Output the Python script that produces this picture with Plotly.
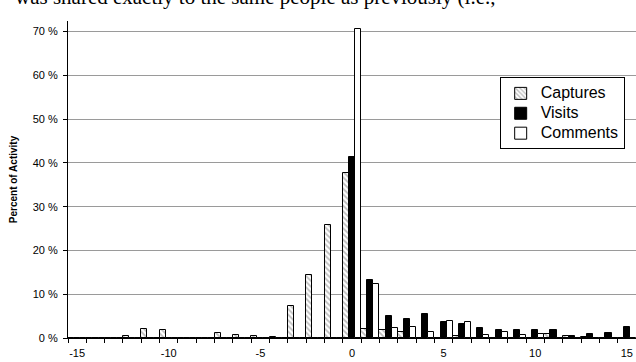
import plotly.graph_objects as go

categories = list(range(-15, 16))
captures = [0, 0, 0, 0.5, 2.0, 1.8, 0, 0, 1.2, 0.8, 0.5, 0.3, 7.2, 14.3, 25.9, 37.6,
            2.1, 1.9, 1.3, 0, 0, 0.5, 0, 0, 0, 0, 1.0, 0.4, 0.2, 0, 0]
visits = [0, 0, 0, 0, 0, 0, 0, 0, 0, 0, 0, 0, 0, 0, 0, 41.3,
          13.3, 5.1, 4.4, 5.5, 3.6, 3.3, 2.3, 1.8, 1.8, 1.8, 1.8, 0.4, 1.0, 1.1, 2.5]
comments = [0, 0, 0, 0, 0, 0, 0, 0, 0, 0, 0, 0, 0, 0, 0, 70.5,
            12.4, 2.2, 2.6, 1.3, 3.8, 3.7, 0.8, 1.3, 0.8, 0.9, 0, 0, 0, 0, 0]
series_names = ["Captures", "Visits", "Comments"]
x_tick_vals = [-15, -10, -5, 0, 5, 10, 15]
y_tick_vals = [0, 10, 20, 30, 40, 50, 60, 70]
y_tick_text = [f"{v} %" for v in y_tick_vals]

FONT = "Liberation Sans, Arial, sans-serif"


def legend_name(name):
    return f"<span style='font-size:16px'>{name}</span>"


fig = go.Figure()
fig.add_trace(go.Bar(
    x=categories, y=captures, name=legend_name(series_names[0]),
    marker=dict(color="white", line=dict(color="black", width=1),
                pattern=dict(shape="\\", fgcolor="#7a7a7a", bgcolor="white", size=4, solidity=0.45)),
))
fig.add_trace(go.Bar(
    x=categories, y=visits, name=legend_name(series_names[1]),
    marker=dict(color="black", line=dict(color="black", width=1)),
))
fig.add_trace(go.Bar(
    x=categories, y=comments, name=legend_name(series_names[2]),
    marker=dict(color="white", line=dict(color="black", width=1)),
))

fig.update_layout(
    width=636, height=362,
    margin=dict(l=68, r=0, t=21, b=24),
    paper_bgcolor="white", plot_bgcolor="white",
    barmode="group", bargap=0, bargroupgap=0,
    font=dict(family=FONT, size=11, color="black"),
    legend=dict(x=0.76, y=0.822, xanchor="left", yanchor="top",
                bordercolor="black", borderwidth=1, bgcolor="white",
                font=dict(family=FONT, size=13, color="black"),
                traceorder="normal"),
    xaxis=dict(
        range=[-15.5, 15.5], tickmode="array", tickvals=x_tick_vals,
        ticktext=[str(v) for v in x_tick_vals],
        ticks="", showgrid=False, zeroline=False,
        showline=True, linecolor="black", linewidth=1,
        ticklabelstandoff=5,
        tickfont=dict(family=FONT, size=11, color="black"),
        minor=dict(tickmode="array", tickvals=[c - 0.5 for c in categories] + [15.5],
                   ticks="outside", ticklen=4, tickcolor="black", tickwidth=1, showgrid=False),
    ),
    yaxis=dict(
        range=[0, 72.4], tickmode="array", tickvals=y_tick_vals, ticktext=y_tick_text,
        ticks="outside", ticklen=4, tickcolor="black",
        showgrid=True, gridcolor="#9a9a9a", gridwidth=1, zeroline=False,
        showline=True, linecolor="black", linewidth=1,
        ticklabelstandoff=3,
        tickfont=dict(family=FONT, size=11, color="black"),
        title=dict(text="<b>Percent of Activity</b>", font=dict(family=FONT, size=10, color="black"), standoff=13),
    ),
)

fig.add_annotation(
    text="was shared exactly to the same people as previously (i.e.,",
    xref="paper", yref="paper", x=-0.0968, y=1.0303, xanchor="left", yanchor="bottom",
    showarrow=False, font=dict(family="Liberation Serif, Times New Roman, serif", size=21, color="black"),
)

fig.write_html("out.html", config={"displayModeBar": False},
               post_script="document.body.style.margin='0';")
